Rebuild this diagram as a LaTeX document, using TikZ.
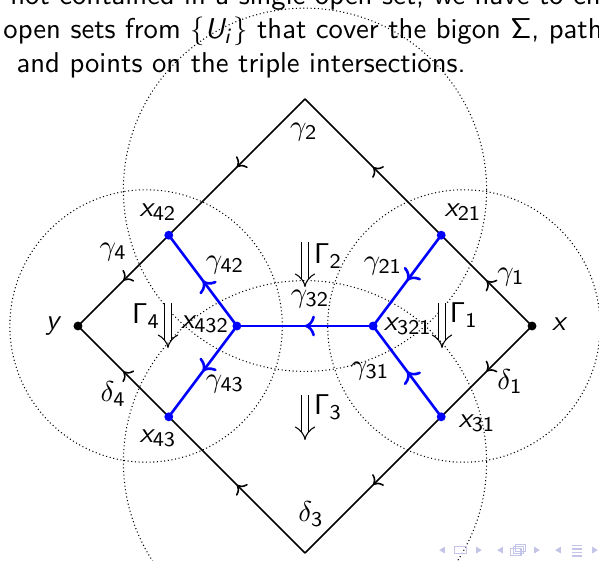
\documentclass[tikz,border=0pt]{standalone}
\usepackage{amsmath}
\usepackage{tikz}
\usetikzlibrary{arrows.meta, decorations.markings}
\definecolor{pathblue}{RGB}{0,0,255}
\definecolor{navblue}{RGB}{196,196,232}
\DeclareMathAlphabet{\mathsfsl}{OT1}{cmss}{m}{sl}
\newcommand{\xlab}[1]{$\mathsfsl{x}_{\mathsf{#1}}$}
\newcommand{\glab}[1]{$\gamma_{\mathsf{#1}}$}
\newcommand{\dlab}[1]{$\delta_{\mathsf{#1}}$}
\newcommand{\Glab}[1]{$\mathsf{\Gamma}_{\mathsf{#1}}$}

\begin{document}
\begin{tikzpicture}[x=1.523cm, y=1.523cm,
    every node/.style={font=\fontsize{10.95}{13.6}\selectfont\sffamily, inner sep=1pt},
    cover/.style={densely dotted, thin},
    edge/.style={semithick, black},
    bpath/.style={line width=1pt, pathblue},
    midarrow/.style={postaction={decorate}, decoration={markings, mark=at position 0.5 with {\arrow{>}}}},
    bdot/.style={circle, fill=black, inner sep=0pt, minimum size=3.4pt},
    pdot/.style={circle, fill=pathblue, inner sep=0pt, minimum size=3.4pt},
    homot/.style={double, double distance=2.4pt, thin, -{Implies}},
    txt/.style={anchor=base west, inner sep=0pt}
]

\coordinate (bbsw) at (-2.687,-2.062);
\coordinate (bbne) at (2.590,2.872);
\useasboundingbox (bbsw) rectangle (bbne);
\clip (bbsw) rectangle (bbne);

% text of the slide
\node[txt] (line1) at (-2.842,2.828) {is not contained in a single open set, we have to choose};
\node[txt] (line2) at (-2.661,2.529) {open sets from $\{\mathsfsl{U}_{\mathsfsl{i}}\}$ that cover the bigon $\mathsf{\Sigma}$, paths};
\node[txt] (line3) at (-2.546,2.229) {and points on the triple intersections.};

% open sets
\coordinate (u1) at (1.4,0);
\coordinate (u2) at (0,1.2);
\coordinate (u3) at (0,-1.2);
\coordinate (u4) at (-1.4,0);
\draw[cover] (u1) circle (1.2);
\draw[cover] (u2) circle (1.6);
\draw[cover] (u3) circle (1.6);
\draw[cover] (u4) circle (1.2);

\coordinate (x) at (2,0);
\coordinate (y) at (-2,0);
\coordinate (top) at (0,2);
\coordinate (bot) at (0,-2);
\coordinate (x21) at (1.2,0.8);
\coordinate (x42) at (-1.2,0.8);
\coordinate (x43) at (-1.2,-0.8);
\coordinate (x31) at (1.2,-0.8);
\coordinate (x321) at (0.6,0);
\coordinate (x432) at (-0.6,0);

% bigon
\draw[edge, midarrow] (x) -- (x21);
\draw[edge, midarrow] (x21) -- (top);
\draw[edge, midarrow] (top) -- (x42);
\draw[edge, midarrow] (x42) -- (y);
\draw[edge, midarrow] (x) -- (x31);
\draw[edge, midarrow] (x31) -- (bot);
\draw[edge, midarrow] (bot) -- (x43);
\draw[edge, midarrow] (x43) -- (y);

% inner paths
\draw[bpath, midarrow] (x21) -- (x321);
\draw[bpath, midarrow] (x31) -- (x321);
\draw[bpath, midarrow] (x321) -- (x432);
\draw[bpath, midarrow] (x432) -- (x42);
\draw[bpath, midarrow] (x432) -- (x43);

\node[bdot] (dx) at (x) {};
\node[bdot] (dy) at (y) {};
\node[pdot] (d21) at (x21) {};
\node[pdot] (d42) at (x42) {};
\node[pdot] (d43) at (x43) {};
\node[pdot] (d31) at (x31) {};
\node[pdot] (d321) at (x321) {};
\node[pdot] (d432) at (x432) {};

\node (lx) at (2.247,0.018) {$\mathsfsl{x}$};
\node (ly) at (-2.21,0) {$\mathsfsl{y}$};
\node (lx21) at (1.392,1.005) {\xlab{21}};
\node (lx42) at (-1.295,1.005) {\xlab{42}};
\node (lx43) at (-1.295,-0.987) {\xlab{43}};
\node (lx31) at (1.515,-0.855) {\xlab{31}};
\node (lx321) at (0.907,0) {\xlab{321}};
\node (lx432) at (-0.881,0.018) {\xlab{432}};
\node (lg1) at (1.815,0.432) {\glab{1}};
\node (lg2) at (-0.01,1.71) {\glab{2}};
\node (lg4) at (-1.69,0.652) {\glab{4}};
\node (lg21) at (0.687,0.529) {\glab{21}};
\node (lg42) at (-0.705,0.537) {\glab{42}};
\node (lg32) at (0.044,0.238) {\glab{32}};
\node (lg31) at (0.573,-0.396) {\glab{31}};
\node (lg43) at (-0.705,-0.51) {\glab{43}};
\node (ld1) at (1.806,-0.49) {\dlab{1}};
\node (ld3) at (0.053,-1.656) {\dlab{3}};
\node (ld4) at (-1.69,-0.6) {\dlab{4}};

% homotopies
\coordinate (G1s) at (1.207,0.203);
\coordinate (G1e) at (1.207,-0.194);
\coordinate (G2s) at (0,0.74);
\coordinate (G2e) at (0,0.344);
\coordinate (G3s) at (0,-0.608);
\coordinate (G3e) at (0,-1.004);
\coordinate (G4s) at (-1.207,0.203);
\coordinate (G4e) at (-1.207,-0.194);
\draw[homot] (G1s) -- (G1e);
\draw[homot] (G2s) -- (G2e);
\draw[homot] (G3s) -- (G3e);
\draw[homot] (G4s) -- (G4e);
\node (lG1) at (1.40,0.097) {\Glab{1}};
\node (lG2) at (0.203,0.617) {\Glab{2}};
\node (lG3) at (0.203,-0.714) {\Glab{3}};
\node (lG4) at (-1.40,0.088) {\Glab{4}};

% navigation symbols
\foreach \px in {1.207,1.718,2.229}
  \fill[navblue] (\px-0.025,-1.974) -- ++(0.05,0.03) -- ++(0,-0.06) -- cycle;
\foreach \px in {1.533,2.044,2.555}
  \fill[navblue] (\px+0.025,-1.974) -- ++(-0.05,0.03) -- ++(0,-0.06) -- cycle;
\draw[navblue, thin] (1.313,-2.004) rectangle (1.419,-1.944);
\draw[navblue, thin] (1.813,-2.024) rectangle (1.903,-1.964);
\draw[navblue, thin] (1.833,-2.004) rectangle (1.923,-1.944);
\draw[navblue, thin] (1.853,-1.984) rectangle (1.943,-1.924);
\foreach \py in {-1.934,-1.964,-1.994,-2.024}
  \draw[navblue, semithick] (2.351,\py) -- (2.441,\py);

\end{tikzpicture}
\end{document}
